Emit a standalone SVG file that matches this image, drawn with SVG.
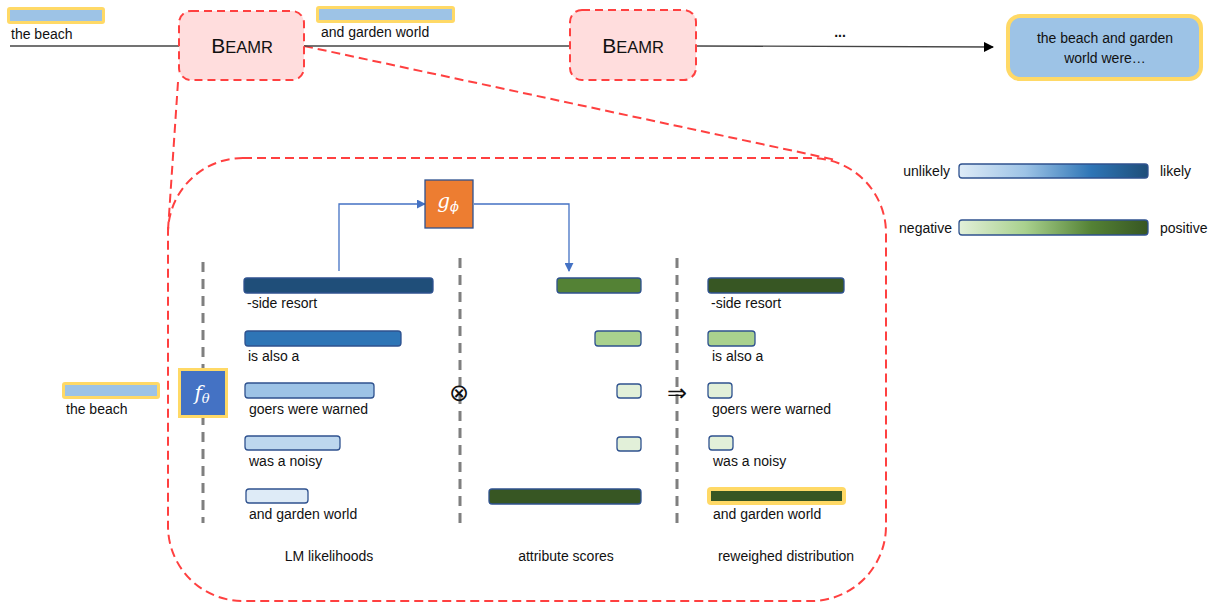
<svg xmlns="http://www.w3.org/2000/svg" width="1217" height="604" viewBox="0 0 1217 604">
<defs>
<marker id="ab" viewBox="0 0 10 10" refX="9" refY="5" markerWidth="10" markerHeight="10" markerUnits="userSpaceOnUse" orient="auto"><path d="M0,0 L10,5 L0,10 z" fill="#000"/></marker>
<marker id="abl" viewBox="0 0 10 10" refX="9" refY="5" markerWidth="9" markerHeight="9" markerUnits="userSpaceOnUse" orient="auto"><path d="M0,0 L10,5 L0,10 z" fill="#4472C4"/></marker>
<linearGradient id="gb" x1="0" x2="1" y1="0" y2="0"><stop offset="0" stop-color="#DEEBF7"/><stop offset="0.35" stop-color="#9DC3E6"/><stop offset="0.7" stop-color="#2E75B6"/><stop offset="1" stop-color="#1F4E79"/></linearGradient>
<linearGradient id="gg" x1="0" x2="1" y1="0" y2="0"><stop offset="0" stop-color="#E2F0D9"/><stop offset="0.35" stop-color="#A9D18E"/><stop offset="0.7" stop-color="#548235"/><stop offset="1" stop-color="#375623"/></linearGradient>
<style>
text{font-family:"Liberation Sans",Arial,sans-serif;font-size:14px;fill:#111}
.beam{fill:#FFDDDD;stroke:#FF4040;stroke-width:2;stroke-dasharray:8 5}
.dash{fill:none;stroke:#FF4040;stroke-width:2;stroke-dasharray:9 5}
.gl{stroke:#7F7F7F;stroke-width:3;stroke-dasharray:10 7}
.bar{stroke:#2F528F;stroke-width:1.3}
.yb{fill:#FFD966}
.conn{fill:none;stroke:#4472C4;stroke-width:1.3}
.cap{font-size:21px}
.sc{font-size:16.5px}
text.math{font-family:"DejaVu Serif","Liberation Serif",serif;font-style:italic;fill:#fff;font-size:20px}
.sub{font-size:13px}
text.op{font-family:"DejaVu Sans",sans-serif;font-size:24px}
</style>
</defs>

<g id="container">
<rect x="168" y="158" width="718" height="443" rx="75" fill="#FFEEEE" class="dash"/>
<line x1="178" y1="82" x2="168" y2="230" class="dash"/>
<line x1="304" y1="46" x2="836" y2="160" class="dash"/>
</g>

<g id="connectors">
<line x1="10" y1="46" x2="179" y2="46" stroke="#444" stroke-width="1.3"/>
<line x1="304" y1="46" x2="570" y2="46" stroke="#444" stroke-width="1.3"/>
<line x1="696" y1="46" x2="993" y2="47" stroke="#444" stroke-width="1.3" marker-end="url(#ab)"/>
<path d="M339,271 V204 H425" class="conn" marker-end="url(#abl)"/>
<path d="M474,204 H569 V271" class="conn" marker-end="url(#abl)"/>
</g>

<g id="input-top">
<rect x="7" y="7" width="98" height="17" rx="3" class="yb"/>
<rect x="10" y="10" width="92" height="11" fill="#9DC3E6"/>
<text x="11" y="39">the beach</text>
</g>

<g id="beamr1">
<rect x="179" y="11" width="125" height="69" rx="12" class="beam"/>
<text x="242" y="53" text-anchor="middle"><tspan class="cap">B</tspan><tspan class="sc">EAMR</tspan></text>
</g>

<g id="input-mid">
<rect x="316" y="6" width="139" height="17" rx="3" class="yb"/>
<rect x="319" y="9" width="133" height="11" fill="#9DC3E6"/>
<text x="321" y="37">and garden world</text>
</g>

<g id="beamr2">
<rect x="570" y="10" width="126" height="70" rx="12" class="beam"/>
<text x="633" y="53" text-anchor="middle"><tspan class="cap">B</tspan><tspan class="sc">EAMR</tspan></text>
</g>

<text x="840" y="37" text-anchor="middle" font-weight="bold">...</text>

<g id="output">
<rect x="1008" y="16" width="193" height="63" rx="12" fill="#9DC3E6" stroke="#FFD966" stroke-width="4"/>
<text x="1105" y="43" text-anchor="middle">the beach and garden</text>
<text x="1105" y="63" text-anchor="middle">world were…</text>
</g>

<g id="input-left">
<rect x="62" y="382" width="98" height="17" rx="3" class="yb"/>
<rect x="65" y="385" width="92" height="11" fill="#9DC3E6"/>
<text x="66" y="414">the beach</text>
</g>

<g id="dividers">
<line x1="203" y1="262" x2="203" y2="523" class="gl"/>
<line x1="460" y1="258" x2="460" y2="527" class="gl"/>
<line x1="677" y1="258" x2="677" y2="527" class="gl"/>
</g>

<g id="f-theta">
<rect x="178" y="368" width="50" height="50" class="yb"/>
<rect x="181" y="371" width="44" height="44" fill="#4472C4"/>
<text x="202" y="400" text-anchor="middle" class="math">f<tspan class="sub" dy="3">θ</tspan></text>
</g>

<g id="g-phi">
<rect x="425" y="180" width="48" height="48" fill="#ED7D31" stroke="#2F528F" stroke-width="1.3"/>
<text x="448" y="208" text-anchor="middle" class="math">g<tspan class="sub" dy="3">ϕ</tspan></text>
</g>

<g id="lm-likelihoods">
<rect x="244" y="278" width="189" height="15" rx="3" fill="#1F4E79" class="bar"/>
<text x="247" y="308">-side resort</text>
<rect x="245" y="331" width="156" height="15" rx="3" fill="#2E75B6" class="bar"/>
<text x="248" y="361">is also a</text>
<rect x="245" y="383" width="129" height="15" rx="3" fill="#9DC3E6" class="bar"/>
<text x="249" y="414">goers were warned</text>
<rect x="245" y="436" width="95" height="14" rx="3" fill="#BDD7EE" class="bar"/>
<text x="249" y="466">was a noisy</text>
<rect x="246" y="489" width="62" height="14" rx="3" fill="#DEEBF7" class="bar"/>
<text x="249" y="519">and garden world</text>
<text x="329" y="561" text-anchor="middle">LM likelihoods</text>
</g>

<text x="459" y="401" text-anchor="middle" class="op">⊗</text>

<g id="attribute-scores">
<rect x="557" y="278" width="84" height="15" rx="3" fill="#548235" class="bar"/>
<rect x="595" y="331" width="46" height="15" rx="3" fill="#A9D18E" class="bar"/>
<rect x="617" y="384" width="24" height="14" rx="3" fill="#E2F0D9" class="bar"/>
<rect x="617" y="437" width="24" height="14" rx="3" fill="#E2F0D9" class="bar"/>
<rect x="489" y="489" width="152" height="15" rx="3" fill="#375623" class="bar"/>
<text x="566" y="561" text-anchor="middle">attribute scores</text>
</g>

<text x="677" y="401" text-anchor="middle" class="op">⇒</text>

<g id="reweighed">
<rect x="708" y="278" width="136" height="15" rx="3" fill="#375623" class="bar"/>
<text x="711" y="308">-side resort</text>
<rect x="708" y="331" width="47" height="15" rx="3" fill="#A9D18E" class="bar"/>
<text x="712" y="361">is also a</text>
<rect x="708" y="383" width="24" height="15" rx="3" fill="#E2F0D9" class="bar"/>
<text x="712" y="414">goers were warned</text>
<rect x="709" y="436" width="24" height="14" rx="3" fill="#E2F0D9" class="bar"/>
<text x="713" y="466">was a noisy</text>
<rect x="707" y="487" width="139" height="18" rx="4" class="yb"/>
<rect x="711" y="491" width="131" height="10" fill="#375623"/>
<text x="713" y="519">and garden world</text>
<text x="786" y="561" text-anchor="middle">reweighed distribution</text>
</g>

<g id="legend">
<text x="950" y="176" text-anchor="end">unlikely</text>
<rect x="959" y="164" width="189" height="14" rx="3" fill="url(#gb)" class="bar"/>
<text x="1160" y="176">likely</text>
<text x="952" y="233" text-anchor="end">negative</text>
<rect x="959" y="220" width="189" height="15" rx="3" fill="url(#gg)" class="bar"/>
<text x="1160" y="233">positive</text>
</g>
</svg>
